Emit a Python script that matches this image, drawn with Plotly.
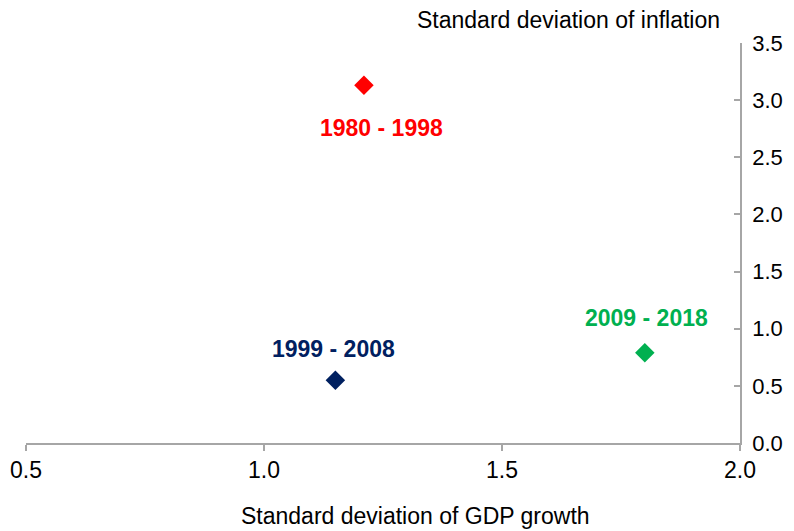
import plotly.graph_objects as go

periods = ['1980 - 1998', '1999 - 2008', '2009 - 2018']
gdp_sd = [1.21, 1.15, 1.80]
infl_sd = [3.13, 0.55, 0.79]
colors = ['#FF0000', '#002060', '#00B050']
# label offsets from each point, in pixels
label_dx = [18, -2, 2]
label_dy = [-43, 31, 35]

x_ticks = [0.5, 1.0, 1.5, 2.0]
y_ticks = [0.0, 0.5, 1.0, 1.5, 2.0, 2.5, 3.0, 3.5]

font = 'Liberation Sans, Arial, sans-serif'
axis_grey = '#A6A6A6'

fig = go.Figure()
for p, x, y, c in zip(periods, gdp_sd, infl_sd, colors):
    fig.add_trace(go.Scatter(
        x=[x], y=[y], mode='markers', name=p,
        marker=dict(symbol='diamond', size=15, color=c),
        showlegend=False, cliponaxis=False
    ))

for p, x, y, c, dx, dy in zip(periods, gdp_sd, infl_sd, colors, label_dx, label_dy):
    fig.add_annotation(x=x, y=y, text='<b>%s</b>' % p, showarrow=False,
                       xshift=dx, yshift=dy,
                       font=dict(family=font, size=23, color=c))

# axis titles as annotations (the x title sits right of centre in the original)
fig.add_annotation(xref='paper', yref='paper', x=0.975, y=1.0, yshift=23,
                   xanchor='right', yanchor='middle', showarrow=False,
                   text='Standard deviation of inflation',
                   font=dict(family=font, size=23, color='black'))
fig.add_annotation(xref='paper', yref='paper', x=0.545, y=0.0, yshift=-73,
                   xanchor='center', yanchor='middle', showarrow=False,
                   text='Standard deviation of GDP growth',
                   font=dict(family=font, size=23, color='black'))

# page body has an 8px margin, so the figure is a little smaller than the window
fig.update_layout(
    width=786, height=523,
    margin=dict(l=18, r=54, t=35, b=88),
    plot_bgcolor='white', paper_bgcolor='white',
    font=dict(family=font, size=22, color='black'),
    xaxis=dict(
        range=[0.5, 2.0], tickvals=x_ticks, tickformat='.1f',
        showgrid=False, zeroline=False, automargin=False,
        showline=True, linecolor=axis_grey, linewidth=1.5,
        ticks='outside', ticklen=6, tickcolor=axis_grey, tickwidth=1.5,
        tickfont=dict(size=23)
    ),
    yaxis=dict(
        range=[0, 3.5], tickvals=y_ticks, tickformat='.1f', side='right',
        showgrid=False, zeroline=False, automargin=False,
        showline=True, linecolor=axis_grey, linewidth=1.5,
        ticks='inside', ticklen=6, tickcolor=axis_grey, tickwidth=1.5,
        ticklabelstandoff=6,
        tickfont=dict(size=22)
    )
)

fig.write_html("out.html")
